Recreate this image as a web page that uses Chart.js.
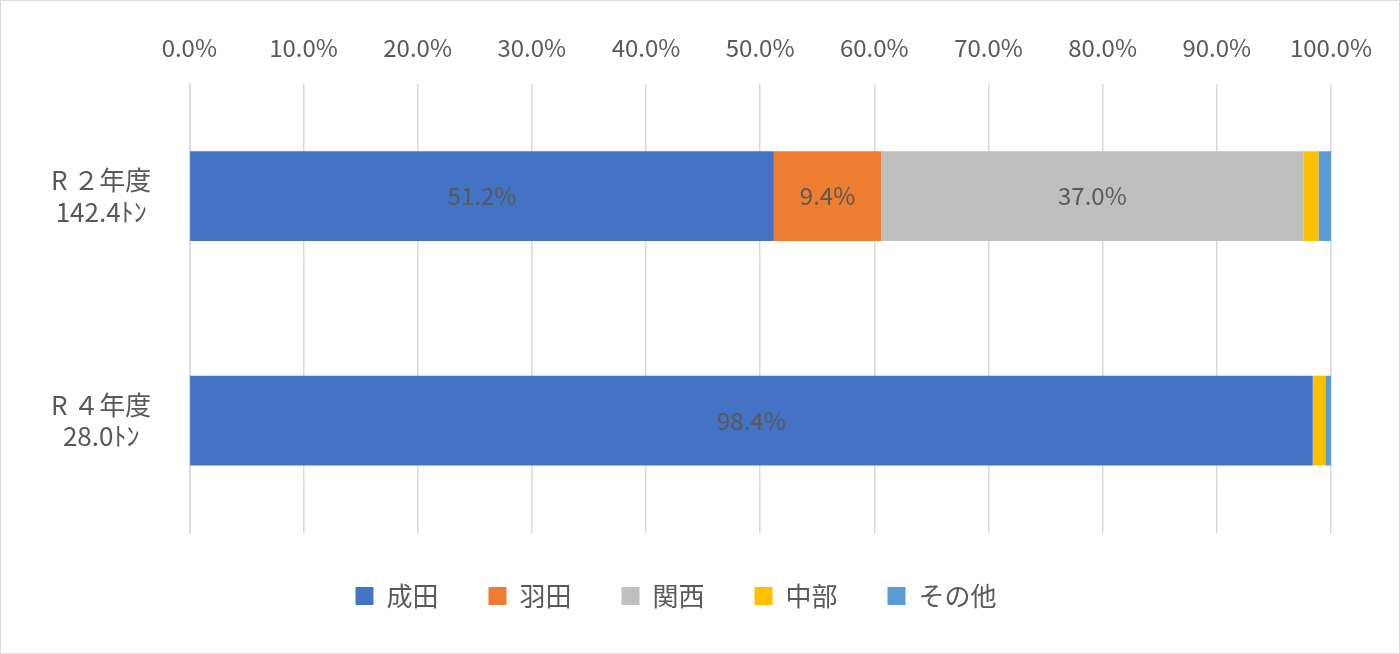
<!DOCTYPE html>
<html><head><meta charset="utf-8">
<script src="https://cdn.jsdelivr.net/npm/chart.js@4"></script>
<style>
body{margin:0;background:#fff;}
#wrap{position:absolute;left:0;top:0;width:1398px;height:652px;border:1px solid #d9d9d9;}
</style></head><body>
<div id="wrap"><canvas id="c" width="1398" height="652"></canvas></div>
<script>
var categories = [['R ２年度', '142.4ﾄﾝ'], ['R ４年度', '28.0ﾄﾝ']];
var seriesNames = ['成田', '羽田', '関西', '中部', 'その他'];
var narita = [51.2, 98.4];
var haneda = [9.4, 0];
var kansai = [37.0, 0];
var chubu = [1.3, 1.1];
var other = [1.1, 0.5];
var colors = ['#4472c4', '#ed7d31', '#bfbfbf', '#ffc000', '#5b9bd5'];
var values = [narita, haneda, kansai, chubu, other];

var labelPlugin = {
  id: 'barLabels',
  beforeInit: function (chart) {
    var fit = chart.legend.fit;
    chart.legend.fit = function () { fit.call(this); this.height = 120; };
  },
  afterDatasetsDraw: function (chart) {
    var ctx = chart.ctx;
    ctx.save();
    ctx.font = '24px "Noto Sans CJK JP", sans-serif';
    ctx.fillStyle = '#595959';
    ctx.textAlign = 'center';
    ctx.textBaseline = 'middle';
    chart.data.datasets.forEach(function (ds, i) {
      if (i > 2) return;
      chart.getDatasetMeta(i).data.forEach(function (bar, j) {
        var v = ds.data[j];
        if (v < 5) return;
        ctx.fillText(v.toFixed(1) + '%', (bar.x + bar.base) / 2, bar.y);
      });
    });
    ctx.restore();
  }
};

new Chart(document.getElementById('c').getContext('2d'), {
  type: 'bar',
  data: {
    labels: categories,
    datasets: seriesNames.map(function (n, i) {
      return { label: n, data: values[i], backgroundColor: colors[i],
        barPercentage: 0.4, categoryPercentage: 1.0 };
    })
  },
  options: {
    indexAxis: 'y',
    responsive: false,
    animation: false,
    layout: { padding: { left: 20, right: 68, top: 10, bottom: 0 } },
    plugins: {
      legend: {
        position: 'bottom',
        labels: { boxWidth: 18, boxHeight: 18, padding: 50, color: '#595959',
          font: { size: 26, family: '"Noto Sans CJK JP", sans-serif' } }
      },
      tooltip: { enabled: false }
    },
    scales: {
      x: {
        position: 'top', stacked: true, min: 0, max: 100,
        ticks: { stepSize: 10, color: '#595959', padding: 22,
          font: { size: 24, family: '"Noto Sans CJK JP", sans-serif' },
          callback: function (v) { return v.toFixed(1) + '%'; } },
        grid: { color: '#d9d9d9', lineWidth: 1.5, drawTicks: false },
        border: { display: false }
      },
      y: {
        stacked: true,
        ticks: { color: '#595959', padding: 30, crossAlign: 'center',
          font: { size: 26, family: '"Noto Sans CJK JP", sans-serif' } },
        grid: { display: false },
        border: { color: '#d9d9d9', width: 1.5 }
      }
    }
  },
  plugins: [labelPlugin]
});
</script>
</body></html>
